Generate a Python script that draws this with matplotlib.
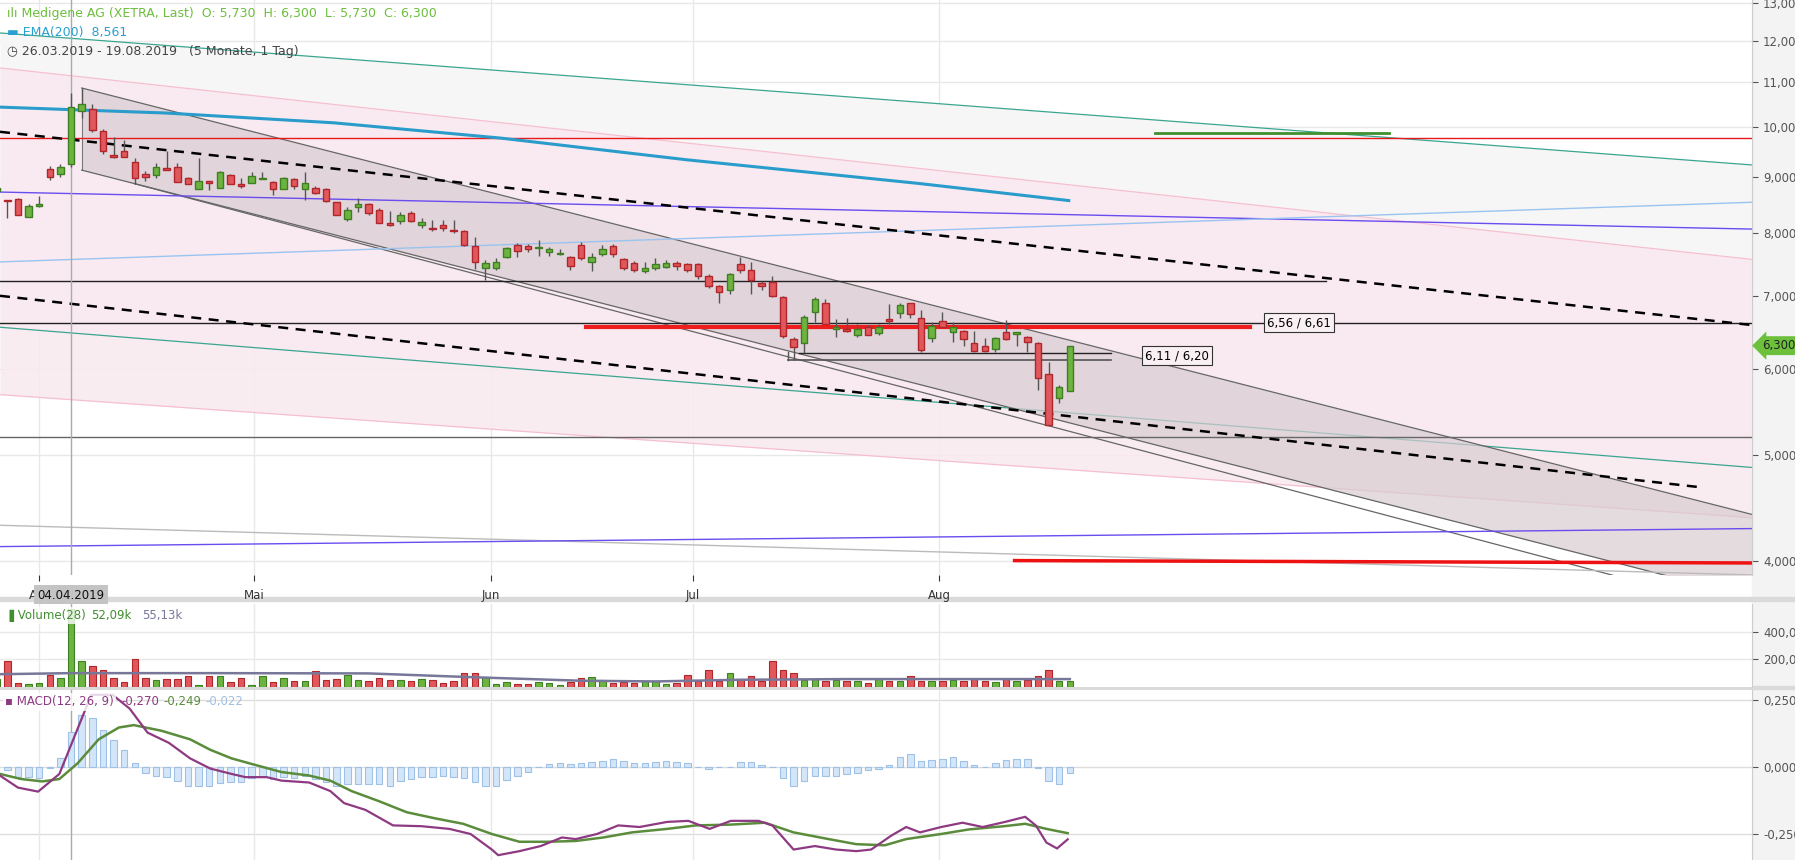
import numpy as np
import matplotlib
matplotlib.use("Agg")
import matplotlib.pyplot as plt
from matplotlib.ticker import FixedLocator, NullLocator
import matplotlib.transforms as mtransforms

plt.rcParams['font.family'] = ['DejaVu Sans']

# ---------------- data ----------------
opens = [8.74, 8.57, 8.59, 8.27, 8.47, 9.15, 9.05, 9.25, 10.35, 10.39, 9.92, 9.43, 9.50, 9.29, 9.06, 9.03, 9.17, 9.19, 8.98, 8.78,
         8.92, 8.80, 9.03, 8.86, 8.88, 8.96, 8.90, 8.78, 8.96, 8.78, 8.80, 8.78, 8.53, 8.23, 8.45, 8.49, 8.39, 8.16, 8.20, 8.33,
         8.13, 8.08, 8.13, 8.04, 8.02, 7.77, 7.42, 7.43, 7.60, 7.79, 7.77, 7.74, 7.68, 7.65, 7.60, 7.79, 7.52, 7.65, 7.77, 7.56,
         7.50, 7.37, 7.42, 7.44, 7.50, 7.48, 7.49, 7.30, 7.14, 7.08, 7.48, 7.40, 7.19, 7.20, 6.98, 6.39, 6.34, 6.77, 6.89, 6.53,
         6.52, 6.44, 6.56, 6.47, 6.67, 6.75, 6.89, 6.68, 6.40, 6.63, 6.49, 6.50, 6.33, 6.29, 6.25, 6.49, 6.46, 6.41, 6.33, 5.93,
         5.64, 5.73]
highs = [8.85, 8.58, 8.60, 8.49, 8.65, 9.20, 9.25, 10.74, 10.86, 10.50, 9.95, 9.80, 9.73, 9.36, 9.11, 9.27, 9.50, 9.27, 8.99, 9.36,
         8.93, 9.12, 9.05, 8.98, 9.09, 9.09, 8.93, 9.00, 8.98, 9.09, 8.82, 8.79, 8.54, 8.45, 8.60, 8.52, 8.42, 8.37, 8.35, 8.38,
         8.25, 8.22, 8.22, 8.22, 8.04, 7.92, 7.55, 7.58, 7.76, 7.82, 7.81, 7.88, 7.76, 7.72, 7.62, 7.85, 7.66, 7.79, 7.81, 7.58,
         7.54, 7.52, 7.58, 7.55, 7.53, 7.51, 7.50, 7.33, 7.16, 7.35, 7.60, 7.52, 7.22, 7.30, 6.99, 6.42, 6.72, 6.98, 6.96, 6.67,
         6.68, 6.60, 6.58, 6.60, 6.88, 6.90, 6.90, 6.79, 6.62, 6.76, 6.62, 6.51, 6.50, 6.40, 6.42, 6.65, 6.49, 6.43, 6.35, 6.08,
         5.80, 6.30]
lows = [8.70, 8.25, 8.31, 8.27, 8.45, 8.95, 9.00, 9.19, 10.20, 9.90, 9.45, 9.37, 9.39, 8.87, 8.93, 8.98, 9.13, 8.90, 8.87, 8.77,
        8.75, 8.80, 8.86, 8.80, 8.88, 8.96, 8.66, 8.77, 8.78, 8.57, 8.68, 8.53, 8.31, 8.20, 8.36, 8.30, 8.16, 8.12, 8.15, 8.18,
        8.08, 8.02, 8.03, 8.00, 7.78, 7.41, 7.24, 7.40, 7.58, 7.60, 7.68, 7.62, 7.62, 7.63, 7.40, 7.55, 7.38, 7.62, 7.60, 7.40,
        7.36, 7.35, 7.40, 7.42, 7.40, 7.36, 7.25, 7.12, 6.90, 7.03, 7.35, 7.03, 7.08, 6.98, 6.40, 6.11, 6.20, 6.62, 6.60, 6.41,
        6.48, 6.42, 6.44, 6.45, 6.60, 6.68, 6.68, 6.22, 6.35, 6.55, 6.35, 6.30, 6.22, 6.22, 6.21, 6.38, 6.30, 6.21, 5.74, 5.33,
        5.58, 5.73]
closes = [8.80, 8.55, 8.31, 8.47, 8.50, 9.00, 9.19, 10.43, 10.50, 9.94, 9.50, 9.39, 9.39, 8.98, 9.00, 9.19, 9.13, 8.90, 8.87, 8.92,
          8.88, 9.09, 8.86, 8.82, 9.01, 8.98, 8.78, 8.98, 8.82, 8.88, 8.70, 8.55, 8.31, 8.39, 8.49, 8.33, 8.16, 8.13, 8.31, 8.20,
          8.18, 8.06, 8.08, 8.02, 7.79, 7.52, 7.50, 7.52, 7.74, 7.69, 7.72, 7.76, 7.72, 7.67, 7.45, 7.58, 7.60, 7.72, 7.64, 7.43,
          7.39, 7.42, 7.48, 7.50, 7.46, 7.39, 7.30, 7.14, 7.05, 7.33, 7.39, 7.24, 7.14, 7.00, 6.43, 6.28, 6.69, 6.96, 6.60, 6.55,
          6.50, 6.53, 6.44, 6.56, 6.63, 6.87, 6.74, 6.24, 6.57, 6.56, 6.56, 6.39, 6.23, 6.23, 6.40, 6.39, 6.49, 6.35, 5.88, 5.33,
          5.77, 6.30]
volumes_k = [60, 190, 26, 19, 29, 86, 67, 566, 188, 155, 126, 62, 33, 202, 67, 52, 55, 60, 76, 17,
             76, 76, 33, 62, 12, 76, 33, 67, 40, 40, 112, 48, 55, 86, 48, 40, 67, 48, 48, 40,
             60, 48, 26, 40, 98, 98, 70, 24, 38, 24, 24, 33, 29, 14, 33, 62, 69, 52, 29, 36,
             29, 40, 40, 20, 29, 90, 40, 126, 45, 100, 60, 76, 45, 190, 126, 98, 50, 60, 45, 50,
             40, 45, 30, 55, 40, 40, 80, 45, 40, 40, 50, 45, 55, 40, 35, 55, 40, 50, 80, 120,
             40, 40]
vol_ma_idx = [0, 7, 20, 35, 45, 55, 62, 70, 80, 101]
vol_ma_k = [92, 100, 100, 98, 70, 45, 40, 52, 57, 57]

macd_idx = [0.3, 2.0, 3.9, 5.9, 7.6, 8.9, 10.9, 12.5, 14.2, 16.2, 18.2, 20.1, 22.1, 23.4, 25.4, 26.8, 29.4, 31.4, 32.7, 34.7,
            37.3, 40.0, 42.6, 44.6, 46.6, 47.2, 49.2, 51.2, 53.2, 54.5, 56.5, 58.5, 60.5, 63.1, 65.1, 67.1, 69.1, 71.7, 73.0, 75.0,
            77.0, 79.0, 80.9, 82.3, 84.2, 85.6, 86.9, 88.9, 90.9, 92.8, 94.9, 96.8, 97.8, 98.8, 99.8, 100.8]
macd_val = [-0.032, -0.077, -0.092, -0.026, 0.141, 0.269, 0.269, 0.218, 0.128, 0.090, 0.032, -0.006, -0.026, -0.038, -0.038,
            -0.051, -0.058, -0.090, -0.135, -0.160, -0.218, -0.221, -0.231, -0.250, -0.308, -0.329, -0.314, -0.295, -0.263,
            -0.269, -0.250, -0.218, -0.224, -0.205, -0.201, -0.231, -0.201, -0.201, -0.218, -0.308, -0.295, -0.308, -0.314,
            -0.308, -0.256, -0.224, -0.244, -0.224, -0.208, -0.224, -0.205, -0.186, -0.218, -0.282, -0.304, -0.270]
sig_idx = [0.3, 2.3, 4.3, 5.9, 7.6, 9.6, 11.5, 12.9, 15.5, 18.2, 20.1, 22.1, 24.1, 26.8, 29.4, 31.4, 33.4, 36.0, 38.6, 41.3,
           43.9, 46.6, 49.2, 51.9, 54.5, 57.1, 59.8, 63.1, 65.8, 69.1, 72.3, 75.0, 78.3, 80.9, 83.6, 85.6, 88.9, 91.5, 94.8,
           96.8, 98.8, 100.8]
sig_val = [-0.026, -0.045, -0.054, -0.045, 0.013, 0.103, 0.147, 0.156, 0.135, 0.103, 0.064, 0.032, 0.010, -0.019, -0.032,
           -0.051, -0.090, -0.128, -0.169, -0.192, -0.212, -0.250, -0.279, -0.279, -0.276, -0.263, -0.244, -0.231, -0.218,
           -0.215, -0.208, -0.244, -0.269, -0.288, -0.292, -0.269, -0.250, -0.233, -0.221, -0.212, -0.231, -0.247]
hist_val = [-0.013, -0.036, -0.036, -0.041, -0.003, 0.032, 0.132, 0.192, 0.182, 0.138,
            0.099, 0.064, 0.015, -0.023, -0.032, -0.038, -0.051, -0.071, -0.071, -0.071,
            -0.060, -0.058, -0.058, -0.041, -0.036, -0.045, -0.036, -0.041, -0.035, -0.045,
            -0.058, -0.071, -0.064, -0.062, -0.062, -0.062, -0.071, -0.051, -0.045, -0.038,
            -0.036, -0.032, -0.036, -0.041, -0.058, -0.071, -0.071, -0.049, -0.032, -0.017,
            0.0, 0.010, 0.015, 0.010, 0.013, 0.017, 0.023, 0.031, 0.022, 0.015,
            0.013, 0.017, 0.021, 0.019, 0.013, 0.0, -0.006, 0.0, -0.001, 0.017,
            0.017, 0.008, 0.0, -0.041, -0.071, -0.051, -0.032, -0.032, -0.032, -0.026,
            -0.023, -0.013, -0.006, 0.006, 0.038, 0.049, 0.023, 0.026, 0.028, 0.036,
            0.023, 0.006, 0.0, 0.013, 0.026, 0.028, 0.028, -0.003, -0.051, -0.064, -0.023]

ema_idx = [0.31, 16.0, 31.7, 47.4, 65.0, 86.6, 100.9]
ema_val = [10.43, 10.30, 10.09, 9.77, 9.33, 8.88, 8.561]

month_pos = [4.0, 24.2, 46.5, 65.5, 88.7]
month_labels = ["Apr", "Mai", "Jun", "Jul", "Aug"]
price_ticks = [4, 5, 6, 7, 8, 9, 10, 11, 12, 13]
vol_ticks_k = [200, 400]
macd_ticks = [-0.25, 0.0, 0.25]

# ---------------- style ----------------
UP, UPE = "#6cb33f", "#3f7f23"
DN, DNE = "#e0585b", "#b0262b"
GRID = "#e8e8e8"
XR = (0.31, 165.2)

fig = plt.figure(figsize=(17.95, 8.60), dpi=100)
fig.patch.set_facecolor("white")
axp = fig.add_axes([0, 0.3314, 0.976, 0.6686])
axv = fig.add_axes([0, 0.2012, 0.976, 0.0965])
axm = fig.add_axes([0, 0.0, 0.976, 0.1977])
fig.patches.append(plt.Rectangle((0.976, 0), 0.024, 1, transform=fig.transFigure, color="#f3f3f3", zorder=-5))
for yb in (0.3014, 0.1985):
    fig.patches.append(plt.Rectangle((0, yb), 1, 0.004, transform=fig.transFigure, color="#dadada", zorder=-4))

n = np.arange(len(closes))
o, h, l, c = map(np.array, (opens, highs, lows, closes))
up = c >= o

# ---------------- price panel ----------------
ax = axp
ax.set_yscale("log")
ax.set_ylim(3.88, 13.08)
ax.set_xlim(*XR)
for t in price_ticks:
    ax.axhline(t, color=GRID, lw=1, zorder=0)
for m in month_pos:
    ax.axvline(m, color=GRID, lw=1, zorder=0)

ax.fill_between([0.31, 165.2], [12.2, 9.23], [6.55, 4.87], color="#f6f6f6", zorder=0.5, lw=0)
ax.fill_between([0.31, 165.2], [11.33, 7.56], [5.68, 4.38], color="#f9e9ef", alpha=0.85, zorder=0.6, lw=0)
ax.plot([0.31, 165.2], [12.2, 9.23], color="#3aa590", lw=0.9, zorder=1)
ax.plot([0.31, 165.2], [6.55, 4.87], color="#3aa590", lw=0.9, zorder=1)
ax.plot([0.31, 165.2], [11.33, 7.56], color="#f6bfd0", lw=0.9, zorder=1)
ax.plot([0.31, 165.2], [5.68, 4.38], color="#f6bfd0", lw=0.9, zorder=1)

ax.fill_between([8.0, 165.2], [10.86, 4.41], [9.13, 3.70], color="#d8ccd1", alpha=0.7, zorder=1.2, lw=0)
ax.plot([8.0, 8.0], [9.13, 10.86], color="#777777", lw=0.8, zorder=1.3)
ax.plot([8.0, 165.2], [10.86, 4.41], color="#666666", lw=0.9, zorder=1.3)
ax.plot([8.0, 165.2], [9.13, 3.70], color="#666666", lw=0.9, zorder=1.3)
ax.plot([13.0, 156.4], [8.87, 3.78], color="#666666", lw=0.9, zorder=1.3)

ax.plot([0.31, 165.2], [8.716, 8.06], color="#6b4cf0", lw=1.0, zorder=1.5)
ax.plot([0.31, 165.2], [7.52, 8.53], color="#9ac4f0", lw=1.0, zorder=1.5)
ax.plot([0.31, 165.2], [4.31, 3.88], color="#bbbbbb", lw=1.0, zorder=1.5)
ax.plot([0.31, 165.2], [4.12, 4.28], color="#6b4cf0", lw=1.0, zorder=1.5)
ax.axhline(9.78, color="#e8191c", lw=1.0, zorder=1.5)
ax.plot([109, 131], [9.88, 9.88], color="#3f8f2f", lw=2, zorder=1.5)
ax.plot([0.31, 125.1], [7.22, 7.22], color="#222222", lw=1.0, zorder=1.5)
ax.axhline(6.61, color="#222222", lw=1.0, zorder=1.5)
ax.axhline(5.19, color="#666666", lw=1.0, zorder=1.5)
ax.plot([55.5, 118], [6.56, 6.56], color="#ee1c1c", lw=3, zorder=1.6)
ax.plot([75.5, 104.9], [6.20, 6.20], color="#222222", lw=1.0, zorder=1.5)
ax.plot([74.5, 104.9], [6.11, 6.11], color="#555555", lw=1.2, zorder=1.5)
ax.plot([74.5, 74.5], [6.11, 6.22], color="#555555", lw=1.0, zorder=1.5)
ax.plot([95.8, 165.2], [4.0, 3.98], color="#ee1111", lw=2.5, zorder=1.6)
ax.plot([0.31, 165.2], [9.9, 6.58], color="black", lw=1.8, ls=(0, (4, 3)), zorder=1.7)
ax.plot([0.31, 160.4], [7.0, 4.67], color="black", lw=1.8, ls=(0, (4, 3)), zorder=1.7)
ax.plot(ema_idx, ema_val, color="#2a9ccb", lw=2.2, zorder=1.8)
ax.axvline(7, color="#aaaaaa", lw=1, zorder=1.9)

w = 0.62
ax.vlines(n, l, h, color="#555555", lw=1, zorder=2)
ax.bar(n, np.maximum(np.abs(c - o), 0.012), bottom=np.minimum(o, c), width=w,
       color=np.where(up, UP, DN), edgecolor=np.where(up, UPE, DNE), lw=1, zorder=3)

ax.text(122.6, 6.61, "6,56 / 6,61", fontsize=8.5, va="center", ha="center", zorder=5,
        bbox=dict(boxstyle="square,pad=0.25", fc="#f9f0f3", ec="#333333", lw=0.8))
ax.text(111.1, 6.17, "6,11 / 6,20", fontsize=8.5, va="center", ha="center", zorder=5,
        bbox=dict(boxstyle="square,pad=0.25", fc="#f9f0f3", ec="#333333", lw=0.8))

ax.yaxis.tick_right()
ax.yaxis.set_major_locator(FixedLocator(price_ticks))
ax.yaxis.set_minor_locator(NullLocator())
ax.set_yticklabels([f"{t:.3f}".replace(".", ",") for t in price_ticks])
ax.tick_params(axis="y", labelsize=8.5, colors="#555555", length=4, direction="out", pad=4)
ax.set_xticks(month_pos)
ax.set_xticklabels(month_labels)
ax.tick_params(axis="x", labelsize=8.5, colors="#333333", length=4, pad=6)
for s in ax.spines.values():
    s.set_visible(False)
ax.spines["right"].set_visible(True)
ax.spines["right"].set_color("#cccccc")
ax.text(7, -0.035, "04.04.2019", transform=mtransforms.blended_transform_factory(ax.transData, ax.transAxes),
        ha="center", va="center", fontsize=8.5, color="#111111", zorder=6,
        bbox=dict(boxstyle="square,pad=0.3", fc="#c4c4c4", ec="none"))
ax.text(1.006, 6.3, "6,300", transform=mtransforms.blended_transform_factory(ax.transAxes, ax.transData),
        ha="left", va="center", fontsize=8.5, color="#222222", clip_on=False,
        bbox=dict(boxstyle="larrow,pad=0.25", fc="#6cc03c", ec="none"))

ax.text(0.004, 0.988, "ılı Medigene AG (XETRA, Last)  O: 5,730  H: 6,300  L: 5,730  C: 6,300",
        transform=ax.transAxes, fontsize=9, color="#6cbf3c", va="top", ha="left", zorder=7)
ax.text(0.004, 0.955, "\u25AC EMA(200)  8,561", transform=ax.transAxes, fontsize=9, color="#2a9fd0",
        va="top", ha="left", zorder=7)
ax.text(0.004, 0.922, "\u25F7 26.03.2019 - 19.08.2019   (5 Monate, 1 Tag)", transform=ax.transAxes,
        fontsize=9, color="#444444", va="top", ha="left", zorder=7)

# ---------------- volume panel ----------------
ax = axv
ax.set_xlim(*XR)
ax.set_ylim(0, 600)
for t in vol_ticks_k:
    ax.axhline(t, color=GRID, lw=1, zorder=0)
for m in month_pos:
    ax.axvline(m, color=GRID, lw=1, zorder=0)
ax.axvline(7, color="#aaaaaa", lw=1, zorder=0.5)
ax.bar(n, volumes_k, width=w, color=np.where(up, UP, DN), edgecolor=np.where(up, UPE, DNE), lw=0.8, zorder=2)
ax.plot(vol_ma_idx, vol_ma_k, color="#77779a", lw=1.8, zorder=3)
ax.yaxis.tick_right()
ax.set_yticks(vol_ticks_k)
ax.set_yticklabels(["200,000", "400,000"])
ax.tick_params(axis="y", labelsize=8.5, colors="#555555", length=4, pad=4)
ax.set_xticks([])
for s in ax.spines.values():
    s.set_visible(False)
ax.spines["right"].set_visible(True)
ax.spines["right"].set_color("#cccccc")
ax.text(0.003, 0.86, "\u2590 Volume(28)", transform=ax.transAxes, fontsize=8.5, color="#3f8f2f", va="center",
        zorder=5, bbox=dict(boxstyle="square,pad=0.2", fc="white", ec="none", alpha=0.8))
ax.text(0.052, 0.86, "52,09k", transform=ax.transAxes, fontsize=8.5, color="#3f8f2f", va="center", zorder=5)
ax.text(0.081, 0.86, "55,13k", transform=ax.transAxes, fontsize=8.5, color="#77779a", va="center", zorder=5)

# ---------------- MACD panel ----------------
ax = axm
ax.set_xlim(*XR)
ax.set_ylim(-0.347, 0.287)
for t in macd_ticks:
    ax.axhline(t, color="#dddddd", lw=1, zorder=0)
for m in month_pos:
    ax.axvline(m, color=GRID, lw=1, zorder=0)
ax.axvline(7, color="#aaaaaa", lw=1, zorder=0.5)
hidx = np.arange(1, len(hist_val) + 1)
ax.bar(hidx, hist_val, width=0.62, color="#d3e5f8", edgecolor="#9fc1e6", lw=0.8, zorder=1)
ax.plot(sig_idx, sig_val, color="#5b8c3c", lw=1.8, zorder=2)
ax.plot(macd_idx, macd_val, color="#8e3a82", lw=1.6, zorder=3)
ax.yaxis.tick_right()
ax.set_yticks(macd_ticks)
ax.set_yticklabels(["-0,250", "0,000", "0,250"])
ax.tick_params(axis="y", labelsize=8.5, colors="#555555", length=4, pad=4)
ax.set_xticks([])
for s in ax.spines.values():
    s.set_visible(False)
ax.spines["right"].set_visible(True)
ax.spines["right"].set_color("#cccccc")
ax.text(0.003, 0.93, "\u25AA MACD(12, 26, 9)", transform=ax.transAxes, fontsize=8.5, color="#8e3a82", va="center",
        zorder=5, bbox=dict(boxstyle="square,pad=0.2", fc="white", ec="none", alpha=0.8))
ax.text(0.069, 0.93, "-0,270", transform=ax.transAxes, fontsize=8.5, color="#8e3a82", va="center", zorder=5)
ax.text(0.093, 0.93, "-0,249", transform=ax.transAxes, fontsize=8.5, color="#5b8c3c", va="center", zorder=5)
ax.text(0.117, 0.93, "-0,022", transform=ax.transAxes, fontsize=8.5, color="#9fbfe0", va="center", zorder=5)

fig.savefig("out.png", dpi=100)
